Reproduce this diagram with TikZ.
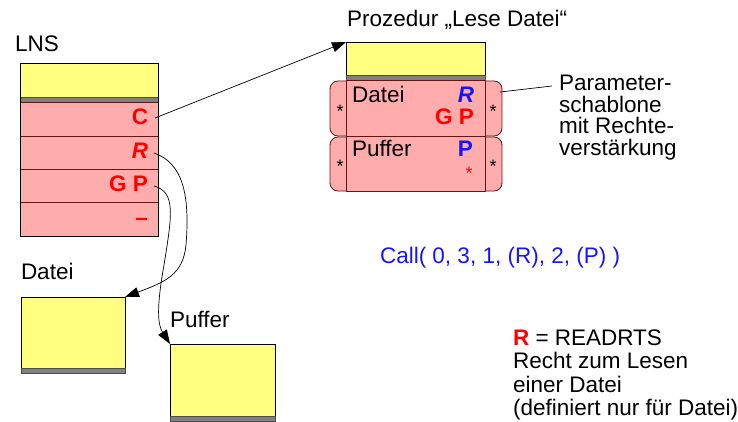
\documentclass[tikz,border=0pt]{standalone}
\usepackage{fontspec}
\setmainfont{Liberation Sans}
\usetikzlibrary{arrows.meta}
\definecolor{yel}{RGB}{255,255,128}
\definecolor{pnk}{RGB}{255,172,172}
\definecolor{gry}{RGB}{128,128,128}
\definecolor{dred}{RGB}{100,20,20}
\definecolor{rd}{RGB}{255,0,0}
\definecolor{bl}{RGB}{20,20,255}
\begin{document}
\begin{tikzpicture}[x=1pt,y=-1pt,
  ybox/.style={draw=black, fill=yel, line width=0.7pt, inner sep=0pt, outer sep=0pt, anchor=north west},
  gband/.style={draw=black!70, fill=gry, line width=0.5pt, inner sep=0pt, outer sep=0pt, anchor=north west, minimum height=5pt},
  lrow/.style={draw=dred, fill=pnk, line width=0.8pt, inner sep=0pt, outer sep=0pt, anchor=north west, minimum width=138pt},
  pouter/.style={draw=dred, fill=pnk, line width=0.8pt, rounded corners=8pt, inner sep=0pt, outer sep=0pt, anchor=north west, minimum width=172pt},
  pinner/.style={draw=dred, fill=pnk, line width=0.8pt, inner sep=0pt, outer sep=0pt, anchor=north west, minimum width=139pt},
  lbl/.style={inner sep=0pt, outer sep=0pt, font=\fontsize{22.5}{25}\selectfont},
  rlet/.style={lbl, text=rd, font=\fontsize{22.5}{25}\selectfont\bfseries, anchor=base east},
  star/.style={inner sep=0pt, font=\fontsize{18}{18}\selectfont},
  conn/.style={draw=black, line width=0.7pt},
  arr/.style={conn, -{Triangle[length=14pt,width=10pt]}}
]
\useasboundingbox (0,0) rectangle (738,422);

% ---------- LNS ----------
\node[lbl, anchor=base west] (lnsLabel) at (15,52) {LNS};
\node[ybox, minimum width=138pt, minimum height=34pt] (lnsY) at (20,63) {};
\node[gband, minimum width=138pt] (lnsG) at (20,97) {};
\node[lrow, minimum height=34pt] (row1) at (20,102) {};
\node[lrow, minimum height=33pt] (row2) at (20,136) {};
\node[lrow, minimum height=33pt] (row3) at (20,169) {};
\node[lrow, minimum height=34pt] (row4) at (20,202) {};
\draw[black, line width=0.8pt] (lnsY.north west) -- (row4.south west) -- (row4.south east) -- (lnsY.north east);
\node[rlet] (cC) at (148,125) {C};
\node[rlet] (cR) at (148,159) {\itshape R};
\node[rlet] (cGP) at (148,191) {G P};
\node[rlet] (cD) at (148,225) {–};

% ---------- Prozedur ----------
\node[lbl, anchor=base west] (procLabel) at (347,27) {Prozedur „Lese Datei“};
\node[ybox, minimum width=139pt, minimum height=33pt] (procY) at (346,42) {};
\node[gband, minimum width=139pt] (procG) at (346,75) {};
\node[pouter, minimum height=55pt] (pdOut) at (330,81) {};
\node[pinner, minimum height=56pt] (pdIn) at (346,80) {};
\node[pouter, minimum height=54pt] (ppOut) at (330,137) {};
\node[pinner, minimum height=55pt] (ppIn) at (346,136) {};

\node[lbl, anchor=base west] (tDatei) at (352,103) {Datei};
\node[lbl, anchor=base east, text=bl, font=\fontsize{22.5}{25}\selectfont\bfseries\itshape] (tR) at (474,103) {R};
\node[rlet] (tGP) at (474,125) {G P};
\node[lbl, anchor=base west] (tPuffer) at (352,157) {Puffer};
\node[lbl, anchor=base east, text=bl, font=\fontsize{22.5}{25}\selectfont\bfseries] (tP) at (473,157) {P};
\node[star, text=rd] (tStar) at (469,173) {*};
\node[star] (s1) at (340,111) {*};
\node[star] (s2) at (493,111) {*};
\node[star] (s3) at (340,166) {*};
\node[star] (s4) at (493,166) {*};

\node[lbl, anchor=base west] (par1) at (559,91) {Parameter-};
\node[lbl, anchor=base west] (par2) at (559,112.5) {schablone};
\node[lbl, anchor=base west] (par3) at (559,134) {mit Rechte-};
\node[lbl, anchor=base west] (par4) at (559,155.5) {verstärkung};
\coordinate (parEnd) at (552,86);
\coordinate (parStart) at (500,92);
\draw[conn] (parStart) -- (parEnd);

% ---------- lower boxes ----------
\node[lbl, anchor=base west] (dLabel) at (21,279) {Datei};
\node[ybox, minimum width=104pt, minimum height=71pt] (dBox) at (21,297) {};
\node[gband, minimum width=104pt] (dG) at (21,368) {};
\node[lbl, anchor=base west] (pLabel) at (170,327) {Puffer};
\node[ybox, minimum width=105pt, minimum height=72pt] (pBox) at (170,344) {};
\node[gband, minimum width=105pt] (pG) at (170,416) {};

% ---------- connectors ----------
\draw[arr] ([xshift=7pt,yshift=7pt]cC.base east) -- (procY.north west);
\draw[arr] ([xshift=6pt,yshift=6pt]cR.base east) .. controls (183,163) and (190,195) .. (186,245)
   .. controls (183,275) and (165,282) .. (dBox.north east);
\draw[arr] ([xshift=6pt,yshift=5pt]cGP.base east) .. controls (176,192) and (172,215) .. (164,265)
   .. controls (156,310) and (158,325) .. (pBox.north west);

% ---------- texts ----------
\node[lbl, anchor=base west, text=bl] (call) at (380,263) {Call( 0, 3, 1, (R), 2, (P) )};
\node[lbl, anchor=base west] (leg1) at (513,345) {\textcolor{rd}{\bfseries R} = READRTS};
\node[lbl, anchor=base west] (leg2) at (513,368.5) {Recht zum Lesen};
\node[lbl, anchor=base west] (leg3) at (513,392) {einer Datei};
\node[lbl, anchor=base west] (leg4) at (513,415.5) {(definiert nur für Datei)};
\end{tikzpicture}
\end{document}
